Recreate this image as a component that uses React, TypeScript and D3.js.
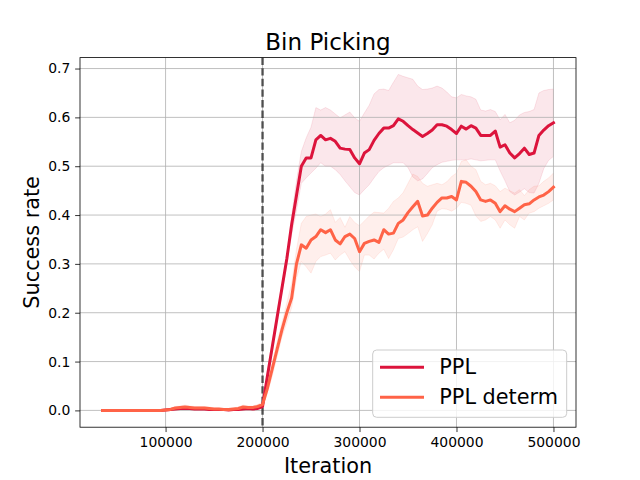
import React, { useEffect, useRef } from 'react';
import * as d3 from 'd3';

// figure: 640x480, axes like matplotlib defaults
const width = 640;
const height = 480;
const margin = { top: 57.6, right: 64, bottom: 52.8, left: 80 };

// iteration (thousands), one point every 5000
const iterK = [
  35, 40, 45, 50, 55, 60, 65, 70, 75, 80, 85, 90, 95,
  100, 105, 110, 115, 120, 125, 130, 135, 140, 145, 150, 155, 160, 165, 170, 175, 180, 185, 190, 195,
  200, 205, 210, 215, 220, 225, 230, 235, 240, 245, 250, 255, 260, 265, 270, 275, 280, 285, 290, 295,
  300, 305, 310, 315, 320, 325, 330, 335, 340, 345, 350, 355, 360, 365, 370, 375, 380, 385, 390, 395,
  400, 405, 410, 415, 420, 425, 430, 435, 440, 445, 450, 455, 460, 465, 470, 475, 480, 485, 490, 495,
  500,
];

// PPL
const pplMean = [
  0, 0, 0, 0, 0, 0, 0, 0, 0, 0, 0, 0, 0,
  0.001, 0.002, 0.003, 0.004, 0.004, 0.004, 0.003, 0.003, 0.003, 0.002, 0.002, 0.002, 0.002, 0.001, 0.002, 0.002, 0.003, 0.004, 0.003, 0.004,
  0.008, 0.07, 0.13, 0.19, 0.25, 0.31, 0.38, 0.44, 0.5, 0.517, 0.517, 0.554, 0.563, 0.554, 0.557, 0.551, 0.537, 0.535, 0.534, 0.517,
  0.505, 0.527, 0.534, 0.553, 0.567, 0.578, 0.578, 0.583, 0.597, 0.592, 0.583, 0.575, 0.568, 0.561, 0.567, 0.574, 0.585, 0.585, 0.582, 0.575,
  0.567, 0.582, 0.576, 0.583, 0.578, 0.563, 0.563, 0.563, 0.572, 0.539, 0.544, 0.527, 0.517, 0.526, 0.537, 0.524, 0.527, 0.563, 0.574, 0.583,
  0.589,
];
const pplLow = [
  0, 0, 0, 0, 0, 0, 0, 0, 0, 0, 0, 0, 0,
  0, 0.001, 0.001, 0.002, 0.002, 0.002, 0.001, 0.001, 0.001, 0, 0, 0, 0, 0, 0, 0, 0.001, 0.002, 0.001, 0.002,
  0.004, 0.06, 0.12, 0.18, 0.24, 0.3, 0.36, 0.41, 0.465, 0.476, 0.486, 0.496, 0.507, 0.5, 0.5, 0.493, 0.483, 0.47, 0.458, 0.446,
  0.441, 0.452, 0.462, 0.476, 0.489, 0.497, 0.502, 0.507, 0.507, 0.507, 0.497, 0.478, 0.47, 0.474, 0.485, 0.497, 0.503, 0.508, 0.51, 0.512,
  0.513, 0.513, 0.513, 0.515, 0.513, 0.511, 0.512, 0.513, 0.513, 0.49, 0.47, 0.448, 0.441, 0.447, 0.454, 0.446, 0.445, 0.465, 0.495, 0.512,
  0.52,
];
const pplHigh = [
  0.001, 0.001, 0.001, 0.001, 0.001, 0.001, 0.001, 0.001, 0.001, 0.001, 0.001, 0.001, 0.001,
  0.003, 0.004, 0.006, 0.007, 0.007, 0.006, 0.005, 0.005, 0.005, 0.004, 0.004, 0.004, 0.004, 0.003, 0.004, 0.004, 0.005, 0.006, 0.005, 0.007,
  0.012, 0.08, 0.14, 0.2, 0.26, 0.32, 0.4, 0.47, 0.53, 0.558, 0.58, 0.62, 0.615, 0.62, 0.615, 0.607, 0.599, 0.605, 0.611, 0.599,
  0.592, 0.609, 0.625, 0.648, 0.657, 0.658, 0.655, 0.672, 0.688, 0.684, 0.681, 0.678, 0.664, 0.657, 0.658, 0.66, 0.664, 0.66, 0.652, 0.642,
  0.64, 0.647, 0.644, 0.642, 0.637, 0.615, 0.613, 0.616, 0.612, 0.595, 0.606, 0.589, 0.594, 0.605, 0.61, 0.612, 0.616, 0.65, 0.655, 0.657,
  0.658,
];

// PPL determ
const detMean = [
  0, 0, 0, 0, 0, 0, 0, 0, 0, 0, 0, 0, 0,
  0.001, 0.002, 0.005, 0.006, 0.007, 0.006, 0.005, 0.005, 0.005, 0.004, 0.003, 0.003, 0.002, 0.002, 0.003, 0.004, 0.007, 0.006, 0.006, 0.008,
  0.012, 0.045, 0.085, 0.125, 0.165, 0.2, 0.23, 0.3, 0.339, 0.332, 0.349, 0.356, 0.37, 0.364, 0.37, 0.349, 0.341, 0.356, 0.361, 0.352,
  0.325, 0.342, 0.346, 0.349, 0.344, 0.37, 0.361, 0.363, 0.383, 0.39, 0.405, 0.417, 0.428, 0.398, 0.4, 0.414, 0.426, 0.435, 0.435, 0.438,
  0.431, 0.469, 0.467, 0.459, 0.448, 0.431, 0.428, 0.431, 0.424, 0.407, 0.419, 0.412, 0.407, 0.414, 0.421, 0.423, 0.431, 0.437, 0.441, 0.448,
  0.457,
];
const detLow = [
  0, 0, 0, 0, 0, 0, 0, 0, 0, 0, 0, 0, 0,
  0, 0, 0.002, 0.003, 0.003, 0.003, 0.002, 0.002, 0.002, 0.001, 0.001, 0.001, 0, 0, 0.001, 0.001, 0.003, 0.003, 0.003, 0.004,
  0.007, 0.035, 0.07, 0.11, 0.15, 0.18, 0.21, 0.27, 0.305, 0.294, 0.281, 0.305, 0.315, 0.318, 0.322, 0.308, 0.318, 0.325, 0.308, 0.294,
  0.284, 0.318, 0.318, 0.31, 0.322, 0.33, 0.311, 0.329, 0.352, 0.355, 0.362, 0.37, 0.376, 0.346, 0.362, 0.38, 0.408, 0.413, 0.412, 0.408,
  0.414, 0.426, 0.424, 0.42, 0.398, 0.387, 0.39, 0.397, 0.39, 0.373, 0.39, 0.38, 0.373, 0.397, 0.39, 0.404, 0.407, 0.414, 0.419, 0.424,
  0.431,
];
const detHigh = [
  0.001, 0.001, 0.001, 0.001, 0.001, 0.001, 0.001, 0.001, 0.001, 0.001, 0.001, 0.001, 0.001,
  0.002, 0.004, 0.008, 0.009, 0.011, 0.009, 0.008, 0.008, 0.008, 0.007, 0.005, 0.005, 0.004, 0.004, 0.005, 0.007, 0.011, 0.009, 0.009, 0.012,
  0.017, 0.055, 0.1, 0.14, 0.18, 0.22, 0.26, 0.33, 0.383, 0.397, 0.4, 0.402, 0.397, 0.402, 0.411, 0.385, 0.395, 0.375, 0.397, 0.385,
  0.378, 0.388, 0.398, 0.406, 0.405, 0.404, 0.414, 0.428, 0.435, 0.446, 0.465, 0.484, 0.479, 0.465, 0.459, 0.462, 0.465, 0.462, 0.468, 0.479,
  0.486, 0.51, 0.513, 0.5, 0.493, 0.469, 0.462, 0.465, 0.46, 0.448, 0.455, 0.45, 0.445, 0.452, 0.44, 0.452, 0.459, 0.46, 0.469, 0.476,
  0.486,
];

const seriesNames = ['PPL', 'PPL determ'];
const seriesColors = ['#dc143c', '#ff6347'];
const xTicks = [100000, 200000, 300000, 400000, 500000];
const yTicks = [0, 0.1, 0.2, 0.3, 0.4, 0.5, 0.6, 0.7];
const splitIter = 200000;

const font = 'DejaVu Sans, sans-serif';

const App = () => {
  const xAxisRef = useRef<SVGGElement>(null);
  const yAxisRef = useRef<SVGGElement>(null);

  const x0 = margin.left;
  const x1 = width - margin.right;
  const y0 = margin.top;
  const y1 = height - margin.bottom;

  const xScale = d3.scaleLinear().domain([11750, 523250]).range([x0, x1]);
  const yScale = d3.scaleLinear().domain([-0.0344, 0.7224]).range([y1, y0]);

  const series = [
    { mean: pplMean, low: pplLow, high: pplHigh },
    { mean: detMean, low: detLow, high: detHigh },
  ].map((s, k) => ({
    name: seriesNames[k],
    color: seriesColors[k],
    points: iterK.map((it, i) => ({ x: it * 1000, m: s.mean[i], lo: s.low[i], hi: s.high[i] })),
  }));

  const line = d3.line<any>().x(d => xScale(d.x)).y(d => yScale(d.m));
  const area = d3.area<any>().x(d => xScale(d.x)).y0(d => yScale(d.lo)).y1(d => yScale(d.hi));

  useEffect(() => {
    const tick = 3.5 * 100 / 72;
    const gx = d3.select(xAxisRef.current!);
    gx.call(d3.axisBottom(xScale).tickValues(xTicks).tickFormat(d3.format('d')).tickSize(tick).tickPadding(tick));
    gx.select('.domain').remove();
    gx.selectAll('line').attr('stroke', '#000').attr('stroke-width', 0.8);
    gx.selectAll('text').attr('font-family', font).attr('font-size', 13.9).attr('fill', '#000');

    const gy = d3.select(yAxisRef.current!);
    gy.call(d3.axisLeft(yScale).tickValues(yTicks).tickFormat(d3.format('.1f')).tickSize(tick).tickPadding(tick));
    gy.select('.domain').remove();
    gy.selectAll('line').attr('stroke', '#000').attr('stroke-width', 0.8);
    gy.selectAll('text').attr('font-family', font).attr('font-size', 13.9).attr('fill', '#000');
  });

  return (
    <svg width={width} height={height} style={{ display: 'block', position: 'absolute', left: 0, top: 0, background: '#fff' }}>
      <defs>
        <clipPath id="plot">
          <rect x={x0} y={y0} width={x1 - x0} height={y1 - y0} />
        </clipPath>
      </defs>
      <rect x={0} y={0} width={width} height={height} fill="#fff" />

      <g clipPath="url(#plot)">
        {series.map(s => (
          <path key={s.name + '-band'} d={area(s.points) || ''} fill={s.color} fillOpacity={0.1} stroke={s.color} strokeOpacity={0.1} strokeWidth={1} />
        ))}
        {xTicks.map(t => (
          <line key={'gx' + t} x1={xScale(t)} x2={xScale(t)} y1={y0} y2={y1} stroke="#b0b0b0" strokeWidth={0.8} />
        ))}
        {yTicks.map(t => (
          <line key={'gy' + t} x1={x0} x2={x1} y1={yScale(t)} y2={yScale(t)} stroke="#b0b0b0" strokeWidth={0.8} />
        ))}
        <line x1={xScale(splitIter)} x2={xScale(splitIter)} y1={y0} y2={y1} stroke="#000" strokeOpacity={0.6} strokeWidth={2.5} strokeDasharray="7.4 3.2" />
        {series.map(s => (
          <path key={s.name} d={line(s.points) || ''} fill="none" stroke={s.color} strokeWidth={3} strokeLinejoin="round" strokeLinecap="square" />
        ))}
      </g>

      <rect x={x0} y={y0} width={x1 - x0} height={y1 - y0} fill="none" stroke="#000" strokeWidth={0.8} />
      <g ref={xAxisRef} transform={`translate(0, ${y1})`} />
      <g ref={yAxisRef} transform={`translate(${x0}, 0)`} />

      <text x={(x0 + x1) / 2} y={49.5} textAnchor="middle" fontFamily={font} fontSize={23}>Bin Picking</text>
      <text x={(x0 + x1) / 2} y={473} textAnchor="middle" fontFamily={font} fontSize={20.8}>Iteration</text>
      <text transform={`translate(39, ${(y0 + y1) / 2}) rotate(-90)`} textAnchor="middle" fontFamily={font} fontSize={20.8}>Success rate</text>

      <g>
        <rect x={372.7} y={350} width={194} height={67.3} rx={4} fill="#fff" fillOpacity={0.8} stroke="#cccccc" strokeWidth={1} />
        {series.map((s, k) => (
          <g key={'lg' + s.name} transform={`translate(0, ${367.3 + k * 30})`}>
            <line x1={380} x2={424} y1={0} y2={0} stroke={s.color} strokeWidth={3} />
            <text x={439.3} y={7} fontFamily={font} fontSize={20.8}>{s.name}</text>
          </g>
        ))}
      </g>
    </svg>
  );
};

export default App;
